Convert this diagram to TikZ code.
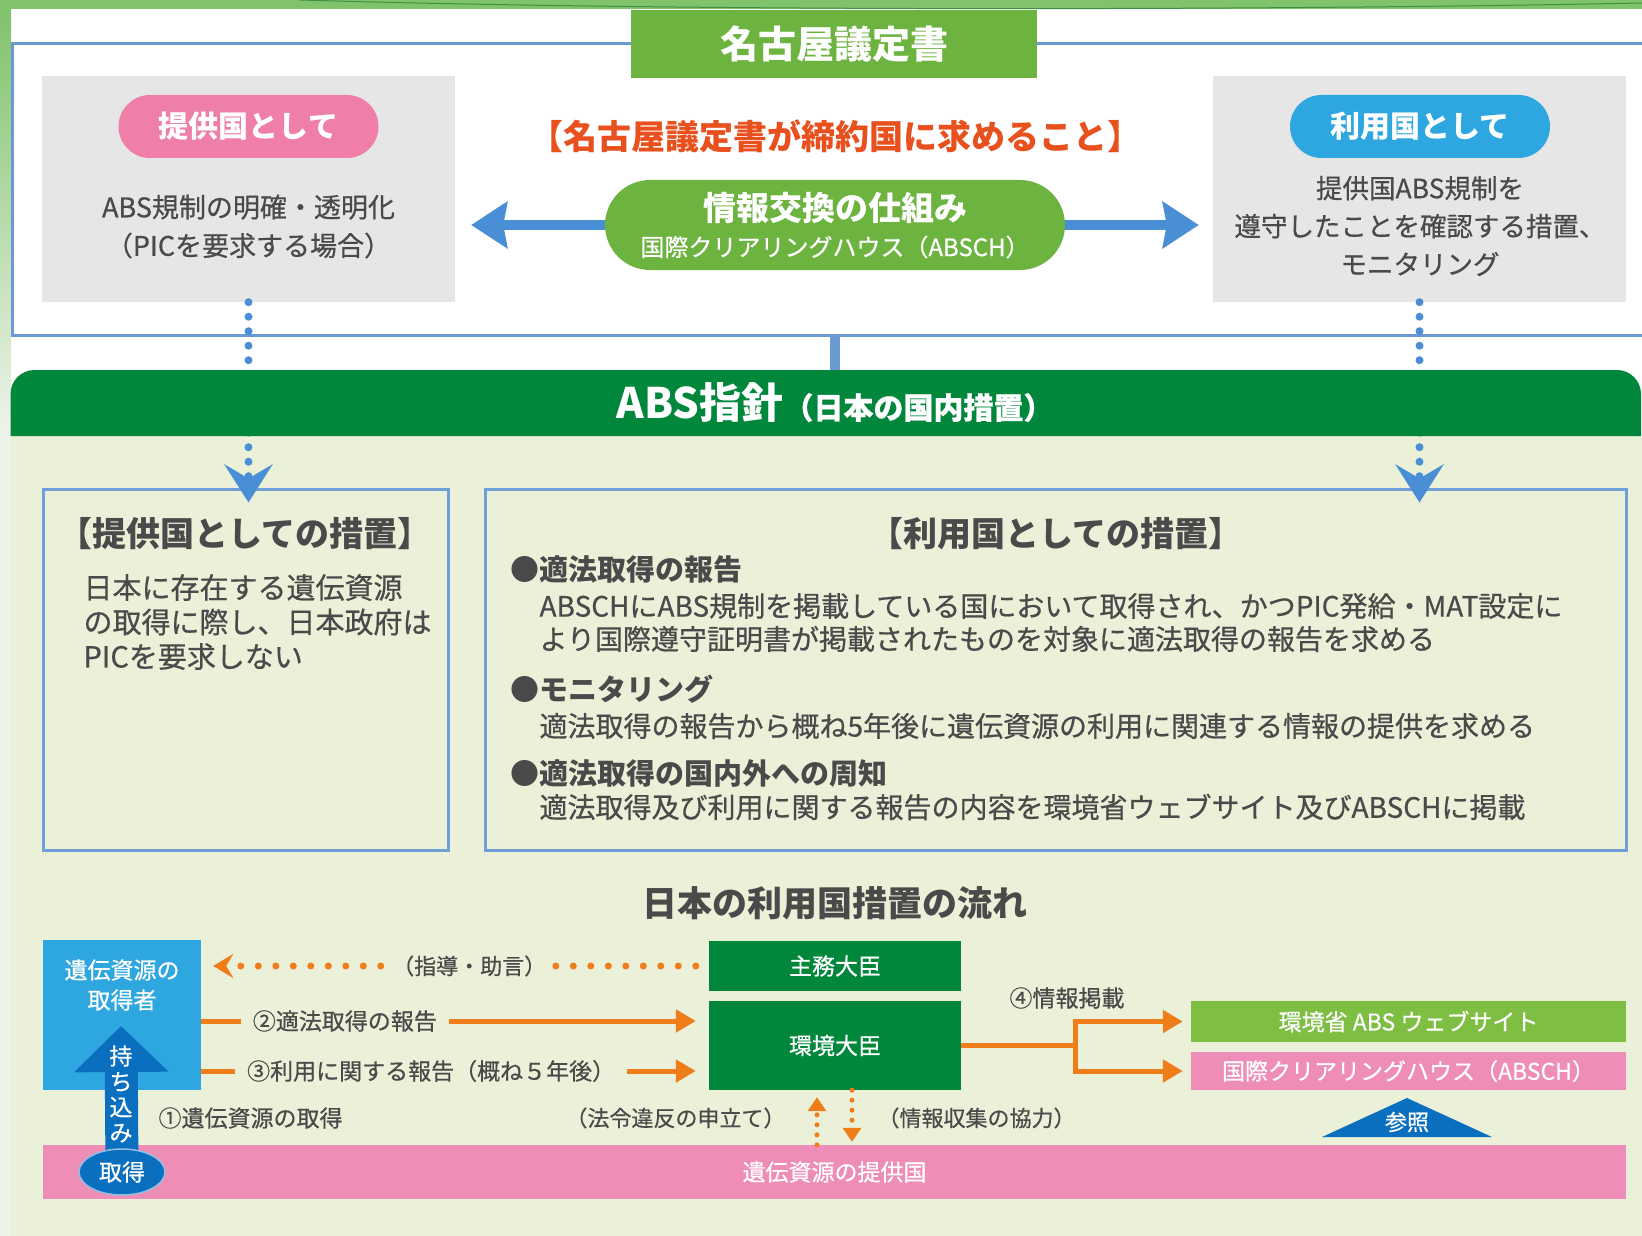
\documentclass[tikz,border=0pt]{standalone}
\usepackage{fontspec}
\setmainfont{Noto Sans CJK JP}
\newfontfamily\jpmed[FakeBold=0.6]{Noto Sans CJK JP}
\usetikzlibrary{arrows.meta,calc,shapes.geometric}
\definecolor{lgreen}{HTML}{6DB33F}
\definecolor{dgreen}{HTML}{00873C}
\definecolor{bgreen}{HTML}{EAF1D8}
\definecolor{gbox}{HTML}{E6E6E6}
\definecolor{pinkp}{HTML}{EF7FA9}
\definecolor{bluep}{HTML}{2EA7E0}
\definecolor{frameblue}{HTML}{6B9AD3}
\definecolor{boxblue}{HTML}{6FA0D8}
\definecolor{arrowblue}{HTML}{4A8FD6}
\definecolor{orng}{HTML}{EE7D1A}
\definecolor{orhead}{HTML}{E8501E}
\definecolor{txt}{HTML}{4A4A4A}
\definecolor{pinkb}{HTML}{EE8DB7}
\definecolor{dblue}{HTML}{0B6FBF}
\definecolor{webgreen}{HTML}{7DBE43}
\definecolor{frameg1}{HTML}{80C36C}
\definecolor{frameg2}{HTML}{C9E5BA}
\definecolor{frameg3}{HTML}{EEF3EA}
\definecolor{curveg}{HTML}{3F8F45}
\newcommand{\fsz}[2]{\fontsize{#1}{#2}\selectfont}
\begin{document}
\begin{tikzpicture}[x=1pt,y=-1pt,
  graybox/.style={fill=gbox, inner sep=0, minimum width=413, minimum height=226},
  pill/.style={rounded corners=31.5, text=white, font=\fsz{30}{36}\bfseries, inner sep=0, minimum width=260, minimum height=63},
  gtxt/.style={text=txt, align=center, font=\jpmed\fsz{27}{38.5}},
  bluebox/.style={draw=boxblue, line width=3, inner sep=0},
  bigarrow/.style={arrowblue, line width=10, -{Stealth[length=36,width=46,inset=4]}},
  bluedots/.style={arrowblue, line width=8, line cap=round, dash pattern=on 0pt off 14.5pt, -{Stealth[length=38,width=48,inset=14]}},
  odots/.style={orng, line width=7, line cap=round, dash pattern=on 0pt off 17.5pt, -{Stealth[length=20,width=24,inset=7]}},
  oarrow/.style={orng, line width=5, -{Triangle[length=20,width=22]}},
  obracket/.style={orng, line width=5, {Triangle[length=20,width=22]}-{Triangle[length=20,width=22]}},
  osmall/.style={orng, line width=5, line cap=round, dash pattern=on 0pt off 10pt, -{Triangle[length=14,width=18]}},
  dbox/.style={fill=dgreen, text=white, font=\jpmed\fsz{23}{28}, inner sep=0, minimum width=252},
  flatbox/.style={text=white, font=\jpmed\fsz{23}{28}, inner sep=0, minimum width=435},
  lbl/.style={text=txt, font=\jpmed\fsz{22}{26}},
  btxt/.style={text=txt, anchor=west, font=\jpmed\fsz{28}{33}},
  bhead/.style={text=txt, anchor=west, font=\fsz{29}{34}\bfseries}
]
\useasboundingbox (0,0) rectangle (1642,1236);
\fill[white] (0,0) rectangle (1642,1236);
% slide frame
\shade[left color=frameg1, middle color=frameg2, right color=frameg1] (0,0) rectangle (1642,9);
\shade[top color=frameg1, bottom color=frameg3] (0,9) rectangle (11,430);
\fill[frameg3] (0,430) rectangle (11,1236);
\draw[curveg, line width=1] (300,0) .. controls (700,12) and (1300,10) .. (1642,3);
% light green background of lower part
\fill[bgreen] (11,436) rectangle (1642,1236);

% upper frame
\draw[frameblue, line width=3] (1642,44) -- (12,44) -- (12,335) -- (1642,335);
\coordinate (fb) at (835,335);
\coordinate (bt) at (835,370);

% gray boxes
\node[graybox] (lg) at (248.5,189) {};
\node[graybox] (rg) at (1419.5,189) {};
\node[pill, fill=pinkp] (pp) at (248.5,126.5) {提供国として};
\node[pill, fill=bluep] (bp) at (1420,126.5) {利用国として};
\node[gtxt] (lgt) at (248.5,226.5) {ABS規制の明確・透明化\\（PICを要求する場合）};
\node[gtxt, font=\jpmed\fsz{26.5}{38}] (rgt) at (1420,226) {提供国ABS規制を\\遵守したことを確認する措置、\\モニタリング};

% title
\node[fill=lgreen, minimum width=406, minimum height=68, inner sep=0, text=white, font=\fsz{38}{44}\bfseries] (title) at (834,44) {名古屋議定書};
\node[text=orhead, font=\fsz{34}{40}\bfseries] (req) at (835,136) {【名古屋議定書が締約国に求めること】};

% information exchange pill
\node[fill=lgreen, rounded corners=45, minimum width=460, minimum height=90, inner sep=0] (xch) at (835,225) {};
\node[text=white, font=\fsz{33}{38}\bfseries] (xch1) at (835,208) {情報交換の仕組み};
\node[text=white, font=\jpmed\fsz{24}{28}] (xch2) at (835,247) {国際クリアリングハウス（ABSCH）};
\draw[bigarrow, shorten >=16] (xch.west) -- (lg.east |- xch.west);
\draw[bigarrow, shorten >=14] (xch.east) -- (rg.west |- xch.east);

% lower boxes
\node[bluebox, minimum width=405, minimum height=361] (lb) at (245.5,669.5) {};
\node[bluebox, minimum width=1141, minimum height=361] (rb) at (1055.5,669.5) {};

% dotted connectors through the band
\draw[bluedots] (lg.south) -- ($(lg.south |- lb.north)+(0,15)$);
\draw[bluedots] (rg.south) -- ($(rg.south |- rb.north)+(0,15)$);

% ABS guideline band
\fill[dgreen] (10.5,436) [rounded corners=24] -- (10.5,370) -- (1641,370) [sharp corners] -- (1641,436) -- cycle;
\node[text=white] (abs) at (835,403) {\bfseries\fsz{42}{48}ABS指針\jpmed\fsz{30}{36}（日本の国内措置）};
\draw[frameblue, line width=10] (fb) -- (bt);

% left box texts
\node[text=txt, font=\fsz{34}{40}\bfseries] (lbh) at (245,534) {【提供国としての措置】};
\node[text=txt, anchor=west, align=left, font=\jpmed\fsz{29}{34.5}] (lbt) at (80,622) {日本に存在する遺伝資源\\の取得に際し、日本政府は\\PICを要求しない};

% right box texts
\node[text=txt, font=\fsz{34}{40}\bfseries] (rbh) at (1056,534) {【利用国としての措置】};
\node[bhead] (h1) at (507,569) {●適法取得の報告};
\node[btxt] (t1a) at (536,606) {ABSCHにABS規制を掲載している国において取得され、かつPIC発給・MAT設定に};
\node[btxt] (t1b) at (536,639) {より国際遵守証明書が掲載されたものを対象に適法取得の報告を求める};
\node[bhead] (h2) at (507,689) {●モニタリング};
\node[btxt] (t2) at (536,726) {適法取得の報告から概ね5年後に遺伝資源の利用に関連する情報の提供を求める};
\node[bhead] (h3) at (507,774) {●適法取得の国内外への周知};
\node[btxt] (t3) at (536,807) {適法取得及び利用に関する報告の内容を環境省ウェブサイト及びABSCHに掲載};

% flow
\node[text=txt, font=\fsz{35}{40}\bfseries] (ft) at (835,903) {日本の利用国措置の流れ};
\node[fill=pinkb, minimum width=1583, minimum height=54, inner sep=0, text=white, font=\jpmed\fsz{23}{28}] (prov) at (834.5,1172) {遺伝資源の提供国};
\node[fill=bluep, minimum width=158, minimum height=150, inner sep=0] (acq) at (122,1015) {};
\node[text=white, align=center, font=\jpmed\fsz{23}{30}] (acqt) at (122,985) {遺伝資源の\\取得者};
\node[dbox, minimum height=50] (shumu) at (835,966) {主務大臣};
\node[dbox, minimum height=89] (kankyo) at (835,1045.5) {環境大臣};
\node[flatbox, fill=webgreen, minimum height=41] (web) at (1408.5,1021.5) {環境省 ABS ウェブサイト};
\node[flatbox, fill=pinkb, minimum height=38] (absch) at (1408.5,1071) {国際クリアリングハウス（ABSCH）};

% carry-in arrow
\coordinate (mtip) at (121,1026);
\coordinate (getc) at (122,1172);
\draw[dblue, line width=33, -{Triangle[length=46,width=92]}] (getc) -- (mtip);
\node[ellipse, fill=dblue, draw=white!55!dblue, line width=1.5, minimum width=86, minimum height=46, inner sep=0, text=white, font=\jpmed\fsz{23}{28}] (get) at (getc) {取得};
\node[text=white, align=center, font=\jpmed\fsz{23}{25.5}] (mochi) at (121,1094) {持\\ち\\込\\み};

% arrows between acquirer and ministers
\coordinate (r2) at (0,1021);
\coordinate (r3) at (0,1071);
\draw[odots, shorten >=12, shorten <=13] (shumu.west) -- (acq.east |- shumu.west)
  node[pos=0.472, fill=bgreen, lbl, inner xsep=6, inner ysep=2] (advice) {（指導・助言）};
\draw[oarrow, shorten >=13] (acq.east |- r2) -- (kankyo.west |- r2)
  node[pos=0.283, fill=bgreen, lbl, font=\jpmed\fsz{23}{26}, inner xsep=12] (rep2) {②適法取得の報告};
\draw[oarrow, shorten >=13] (acq.east |- r3) -- (kankyo.west |- r3)
  node[pos=0.453, fill=bgreen, lbl, font=\jpmed\fsz{23}{26}, inner xsep=12] (rep3) {③利用に関する報告（概ね５年後）};

% posting
\coordinate (sp) at (1075,1045.5);
\draw[orng, line width=5] (kankyo.east) -- (sp);
\draw[obracket, shorten >=8, shorten <=8] (web.west) -- (sp |- web.west) -- (sp |- absch.west) -- (absch.west);
\node[lbl, font=\jpmed\fsz{23}{26}] (post) at (1067,998) {④情報掲載};

% provider country exchanges
\coordinate (ux) at (817,0);
\coordinate (dx) at (852,0);
\draw[osmall, shorten >=7] (prov.north -| ux) -- (kankyo.south -| ux);
\draw[osmall, shorten >=3] (kankyo.south -| dx) -- (prov.north -| dx);
\node[lbl, anchor=east] (hourei) at (789,1118) {（法令違反の申立て）};
\node[lbl, anchor=west] (kyoryoku) at (874,1118) {（情報収集の協力）};
\node[lbl, anchor=west, font=\jpmed\fsz{23}{26}] (step1) at (155,1118) {①遺伝資源の取得};

% reference triangle
\fill[dblue] (1322,1137) -- (1407,1098) -- (1492,1137) -- cycle;
\node[text=white, font=\jpmed\fsz{22}{26}] (sansho) at (1407,1122) {参照};
\end{tikzpicture}
\end{document}
